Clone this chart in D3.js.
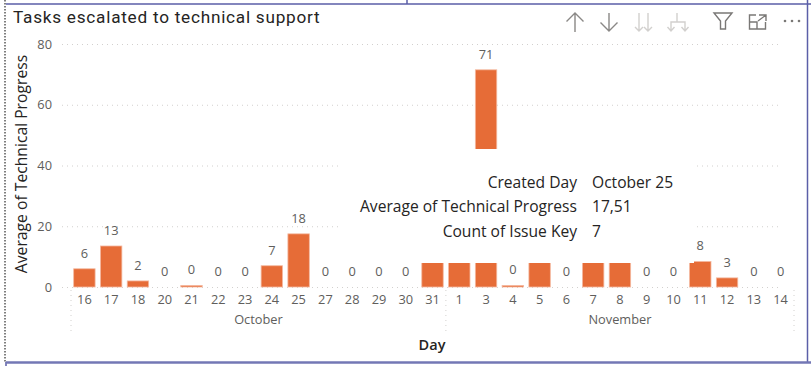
<!DOCTYPE html>
<html>
<head>
<meta charset="utf-8">
<script src="https://cdn.jsdelivr.net/npm/d3@7"></script>
<style>
  html, body { margin: 0; padding: 0; background: #fff; overflow: hidden; }
  svg { display: block; }
  text { font-family: "Open Sans", "Noto Sans", sans-serif; }
  .axis text { fill: #605e5c; font-size: 12.8px; font-family: "Open Sans", sans-serif; }
  .axis path, .axis line { display: none; }
</style>
</head>
<body>
<div id="root"></div>
<script>
const days = ['16', '17', '18', '20', '21', '22', '23', '24', '25', '27', '28', '29', '30', '31',
  '1', '3', '4', '5', '6', '7', '8', '9', '10', '11', '12', '13', '14']
const progress = [6, 13.5, 2, 0, 0.5, 0, 0, 7, 17.5, 0, 0, 0, 0, 9, 9, 71.5, 0.5, 9, 0, 9, 9, 0, 0, 8.4, 3, 0, 0]
// null where the tooltip hides the label in the picture
const counts = [6, 13, 2, 0, 0, 0, 0, 7, 18, 0, 0, 0, 0, null, null, 71, 0, null, 0, null, null, 0, 0, 8, 3, 0, 0]
const months = [
  { name: 'October', first: 0, last: 13 },
  { name: 'November', first: 14, last: 26 }
]
const yTicks = [0, 20, 40, 60, 80]
const tooltipLabels = ['Created Day', 'Average of Technical Progress', 'Count of Issue Key']
const tooltipValues = ['October 25', '17,51', '7']

const width = 811
const height = 366
const margin = { top: 44, right: 17, bottom: 79, left: 71 }

const svg = d3.select('#root').append('svg')
  .attr('width', width)
  .attr('height', height)
  .attr('viewBox', `0 0 ${width} ${height}`)

const keys = days.map((d, i) => i)
const xScale = d3.scaleBand()
  .domain(keys)
  .range([margin.left, width - margin.right])
  .paddingInner(0.2)
  .paddingOuter(0.1)

const yScale = d3.scaleLinear()
  .domain([0, 80])
  .range([height - margin.bottom, margin.top])

// Gridlines
svg.append('g')
  .selectAll('line')
  .data(yTicks)
  .enter()
  .append('line')
  .attr('x1', 62)
  .attr('x2', 781)
  .attr('y1', d => yScale(d) + 0.5)
  .attr('y2', d => yScale(d) + 0.5)
  .attr('stroke', '#d2d0ce')
  .attr('stroke-dasharray', '1 4')

// y axis
svg.append('g')
  .attr('class', 'axis')
  .attr('transform', 'translate(56, 0)')
  .call(d3.axisLeft(yScale).tickValues(yTicks).tickSize(0).tickPadding(4))

// Bars
svg.append('g')
  .selectAll('rect')
  .data(progress)
  .enter()
  .append('rect')
  .attr('x', (d, i) => xScale(i))
  .attr('y', d => yScale(d))
  .attr('width', xScale.bandwidth())
  .attr('height', d => yScale(0) - yScale(d))
  .attr('fill', '#e66c37')
  .attr('stroke', '#f4b9a0')
  .attr('stroke-width', 0.8)

// Data labels
const labelData = counts
  .map((d, i) => ({ value: d, index: i }))
  .filter(d => d.value !== null)

svg.append('g')
  .selectAll('text')
  .data(labelData)
  .enter()
  .append('text')
  .attr('x', d => xScale(d.index) + xScale.bandwidth() / 2)
  .attr('y', d => yScale(progress[d.index]) - 11)
  .attr('text-anchor', 'middle')
  .attr('fill', '#605e5c')
  .attr('font-size', 12.8)
  .text(d => d.value)

// x axis, days
svg.append('g')
  .attr('class', 'axis')
  .attr('transform', `translate(0, ${yScale(0)})`)
  .call(d3.axisBottom(xScale).tickFormat(i => days[i]).tickSize(0).tickPadding(8))

// x axis, month separators and names
const separators = [
  xScale(months[0].first) - xScale.step() * 0.1,
  xScale(months[1].first) - xScale.step() * 0.1,
  xScale(months[1].last) + xScale.bandwidth() + xScale.step() * 0.1
]
svg.append('g')
  .selectAll('line')
  .data(separators)
  .enter()
  .append('line')
  .attr('x1', d => d)
  .attr('x2', d => d)
  .attr('y1', 290)
  .attr('y2', 332)
  .attr('stroke', '#d2d0ce')
  .attr('stroke-dasharray', '1 4')

svg.append('g')
  .selectAll('text')
  .data(months)
  .enter()
  .append('text')
  .attr('x', d => (xScale(d.first) + xScale(d.last) + xScale.bandwidth()) / 2)
  .attr('y', 324)
  .attr('text-anchor', 'middle')
  .attr('fill', '#605e5c')
  .attr('font-size', 12.8)
  .text(d => d.name)

// Axis titles
svg.append('text')
  .attr('x', 432)
  .attr('y', 350)
  .attr('text-anchor', 'middle')
  .attr('fill', '#252423')
  .attr('font-size', 14.5)
  .attr('font-weight', 600)
  .text('Day')

svg.append('text')
  .attr('transform', 'translate(27, 164) rotate(-90)')
  .attr('text-anchor', 'middle')
  .attr('fill', '#252423')
  .attr('font-size', 15.7)
  .text('Average of Technical Progress')

// Title
svg.append('text')
  .attr('x', 13)
  .attr('y', 23)
  .attr('fill', '#252423')
  .attr('font-size', 17.2)
  .style('font-family', 'Roboto, sans-serif')
  .style('letter-spacing', '0.75px')
  .text('Tasks escalated to technical support')

// Tooltip covers part of the chart
svg.append('rect')
  .attr('x', 338)
  .attr('y', 149)
  .attr('width', 356)
  .attr('height', 114)
  .attr('fill', '#fff')

const tooltip = svg.append('g')
tooltipLabels.forEach((label, i) => {
  const y = 187.5 + i * 24.5
  tooltip.append('text')
    .attr('x', 577)
    .attr('y', y)
    .attr('text-anchor', 'end')
    .attr('fill', '#252423')
    .attr('font-size', 15.6)
    .text(label)
  tooltip.append('text')
    .attr('x', 592)
    .attr('y', y)
    .attr('fill', '#252423')
    .attr('font-size', 15.6)
    .text(tooltipValues[i])
})

// Visual header icons
const icons = svg.append('g').attr('fill', 'none').attr('stroke-width', 1.4)
icons.append('path').attr('stroke', '#8a8886')
  .attr('d', 'M575 32V13M566.5 21.5L575 13L583.5 21.5')
icons.append('path').attr('stroke', '#8a8886')
  .attr('d', 'M609 13V31M600.5 22.5L609 31L617.5 22.5')
icons.append('path').attr('stroke', '#d2d0ce')
  .attr('d', 'M639 13V31M635 27L639 31L643 27M648 13V31M644 27L648 31L652 27')
icons.append('path').attr('stroke', '#d2d0ce')
  .attr('d', 'M677 13V22M671 31V22H685V31M667.5 27L671 31L674.5 27M681.5 27L685 31L688.5 27')
icons.append('path').attr('stroke', '#7a7876')
  .attr('d', 'M714 13H732L725.5 21V29H720.5V21Z')
icons.append('path').attr('stroke', '#7a7876')
  .attr('d', 'M756 15H749.5V29H765.5V22M749.5 22H757V29M759 15H766V21M766 15L758 21')
icons.append('g').attr('fill', '#7a7876').attr('stroke', 'none')
  .selectAll('circle')
  .data([785, 792, 799])
  .enter()
  .append('circle')
  .attr('cx', d => d)
  .attr('cy', 21)
  .attr('r', 1.3)

// Report frame
const frame = svg.append('g').attr('fill', 'none')
frame.append('path').attr('stroke', '#5b5fa8').attr('stroke-width', 1.5)
  .attr('d', 'M6 4H811M807.5 0V362M407 0V4M6 362V366')
frame.append('path').attr('stroke', '#7377b5').attr('stroke-width', 2.5)
  .attr('d', 'M6 362.5H811')
frame.append('path').attr('stroke', '#555').attr('stroke-width', 1.5)
  .attr('stroke-dasharray', '1.5 1.5')
  .attr('d', 'M5 0V362')
</script>
</body>
</html>
